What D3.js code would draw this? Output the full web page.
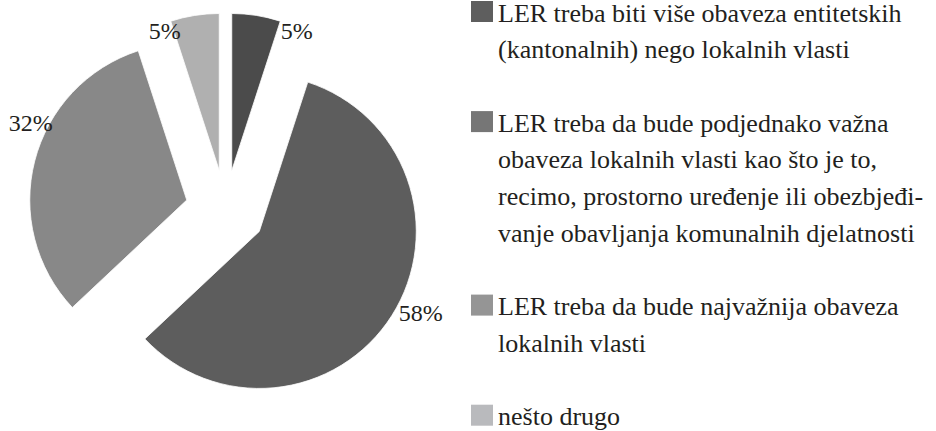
<!DOCTYPE html>
<html>
<head>
<meta charset="utf-8">
<script src="https://cdn.jsdelivr.net/npm/d3@7"></script>
<style>
  html, body { margin: 0; padding: 0; background: #fff; }
  svg { display: block; }
</style>
</head>
<body>
<svg id="chart" width="936" height="431"></svg>
<script>
// ---- data ----
const categories = [
  ["LER treba biti više obaveza entitetskih", "(kantonalnih) nego lokalnih vlasti"],
  ["LER treba da bude podjednako važna", "obaveza lokalnih vlasti kao što je to,", "recimo, prostorno uređenje ili obezbjeđi-", "vanje obavljanja komunalnih djelatnosti"],
  ["LER treba da bude najvažnija obaveza", "lokalnih vlasti"],
  ["nešto drugo"]
];
const values = [5, 58, 32, 5];
const valueLabels = ["5%", "58%", "32%", "5%"];

// ---- styles / layout ----
const fontFam = "Liberation Serif";
const textColor = "#231f20";
const sliceColors = ["#4b4b4b", "#5d5d5d", "#888888", "#b0b0b0"];
const swatchColors = ["#5e5e5e", "#767676", "#959595", "#b9babd"];
const labelAngleShift = [16, -5.6, 11.8, -12.3];   // degrees, relative to slice mid-angle
const labelRadius = [154, 181, 174, 150];

const cx = 225.5, cy = 210, R = 157, explode = 40;
const svg = d3.select("#chart");

const pie = d3.pie().sort(null).value(d => d)(values);
const arc = d3.arc().innerRadius(0).outerRadius(R);

const g = svg.append("g").attr("transform", `translate(${cx},${cy})`);
const slices = g.selectAll("g.slice").data(pie).enter().append("g")
  .attr("class", "slice")
  .attr("transform", d => {
    const m = (d.startAngle + d.endAngle) / 2;
    return `translate(${explode * Math.sin(m)},${-explode * Math.cos(m)})`;
  });
slices.append("path")
  .attr("d", arc)
  .attr("fill", (d, i) => sliceColors[i])
  .attr("stroke", "#fff")
  .attr("stroke-width", 0.8);

slices.append("text")
  .attr("x", (d, i) => {
    const a = (d.startAngle + d.endAngle) / 2 + labelAngleShift[i] * Math.PI / 180;
    return labelRadius[i] * Math.sin(a);
  })
  .attr("y", (d, i) => {
    const a = (d.startAngle + d.endAngle) / 2 + labelAngleShift[i] * Math.PI / 180;
    return -labelRadius[i] * Math.cos(a) + 8;
  })
  .attr("text-anchor", "middle")
  .attr("font-family", fontFam)
  .attr("fill", textColor)
  .attr("font-size", 24)
  .text((d, i) => valueLabels[i]);

// ---- legend ----
const lineH = 36.7, firstBase = 21.5, legX = 471, textX = 498, sw = 22, sh = 21;
const legendFont = 26;
const legend = svg.append("g");
let lineIdx = 0;
categories.forEach((lines, i) => {
  const base = firstBase + lineIdx * lineH;
  legend.append("rect")
    .attr("x", legX).attr("y", base - sh + 0.5)
    .attr("width", sw).attr("height", sh)
    .attr("fill", swatchColors[i]);
  const t = legend.append("text")
    .attr("x", textX).attr("y", base)
    .attr("font-family", fontFam)
    .attr("fill", textColor)
    .attr("font-size", legendFont);
  lines.forEach((ln, j) => {
    t.append("tspan").attr("x", textX).attr("y", base + j * lineH).text(ln);
  });
  lineIdx += lines.length + 1;
});
</script>
</body>
</html>
